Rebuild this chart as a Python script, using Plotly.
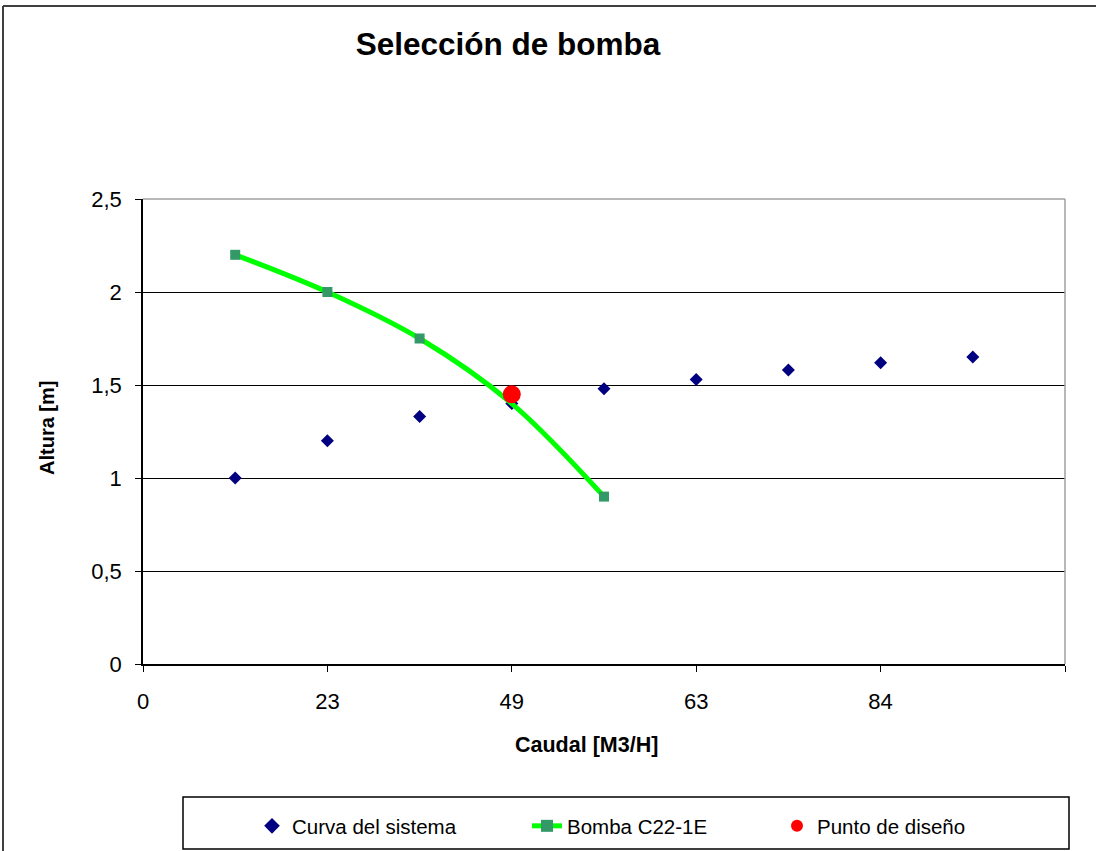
import plotly.graph_objects as go

# ---- data ----
x_tick_pos = [0, 2, 4, 6, 8, 10]
x_tick_labels = ["0", "23", "49", "63", "84", ""]
y_tick_vals = [0, 0.5, 1, 1.5, 2, 2.5]
y_tick_labels = ["0", "0,5", "1", "1,5", "2", "2,5"]

sistema_x = [1, 2, 3, 4, 5, 6, 7, 8, 9]
sistema_y = [1.00, 1.20, 1.33, 1.40, 1.48, 1.53, 1.58, 1.62, 1.65]

bomba_x = [1, 2, 3, 4, 5]
bomba_y = [2.20, 2.00, 1.75, 1.40, 0.90]
bomba_marker_x = [1, 2, 3, 5]
bomba_marker_y = [2.20, 2.00, 1.75, 0.90]

diseno_x = [4]
diseno_y = [1.45]

FONT = "Liberation Sans, Arial, sans-serif"

# plot-area pixel geometry
L, R, T, B = 143, 1065, 199, 664
W, H = R - L, B - T


def px(xp):
    return (xp - L) / W


def py(yp):
    return (B - yp) / H


fig = go.Figure()

fig.add_trace(go.Scatter(
    x=sistema_x, y=sistema_y, mode="markers", name="Curva del sistema",
    marker=dict(symbol="diamond", color="#000080", size=10),
    legend="legend",
))
fig.add_trace(go.Scatter(
    x=bomba_x, y=bomba_y, mode="lines", name="Bomba C22-1E",
    line=dict(color="#00FF00", width=5, shape="spline", smoothing=1),
    showlegend=False,
))
fig.add_trace(go.Scatter(
    x=bomba_marker_x, y=bomba_marker_y, mode="markers", name="Bomba C22-1E",
    marker=dict(symbol="square", color="#339966", size=10),
    showlegend=False,
))
# legend-only entry for the pump (line + square marker)
fig.add_trace(go.Scatter(
    x=[None], y=[None], mode="lines+markers", name="Bomba C22-1E",
    line=dict(color="#00FF00", width=5),
    marker=dict(symbol="square", color="#339966", size=8),
    legend="legend2",
))
fig.add_trace(go.Scatter(
    x=diseno_x, y=diseno_y, mode="markers", name="Punto de diseño",
    marker=dict(symbol="circle", color="#FF0000", size=18),
    legend="legend3",
))

legend_common = dict(
    orientation="h", yanchor="middle", y=py(826), xanchor="left",
    font=dict(family=FONT, size=20.5, color="#000000"),
    bgcolor="rgba(0,0,0,0)", borderwidth=0, itemsizing="constant",
)

shapes = [
    # legend box
    dict(type="rect", xref="paper", yref="paper",
         x0=px(183), x1=px(1069), y0=py(849), y1=py(797),
         line=dict(color="#000000", width=1.5), fillcolor="rgba(0,0,0,0)"),
    # plot-area top/right gray border
    dict(type="line", xref="paper", yref="paper", x0=0, x1=1, y0=1, y1=1,
         line=dict(color="#A0A0A0", width=1.5), layer="above"),
    dict(type="line", xref="paper", yref="paper", x0=1, x1=1, y0=0, y1=1,
         line=dict(color="#A0A0A0", width=1.5), layer="above"),
    # outer chart border (left / top)
    dict(type="line", xref="paper", yref="paper", x0=px(3), x1=px(3),
         y0=py(6), y1=py(900), line=dict(color="#404040", width=2)),
    dict(type="line", xref="paper", yref="paper", x0=px(3), x1=px(1200),
         y0=py(6), y1=py(6), line=dict(color="#404040", width=2)),
]

annotations = [
    dict(text="<b>Caudal [M3/H]</b>", xref="paper", yref="paper",
         x=px(586), y=py(745), xanchor="center", yanchor="middle",
         showarrow=False, font=dict(family=FONT, size=21.5, color="#000000")),
    dict(text="<b>Altura [m]</b>", xref="paper", yref="paper",
         x=px(47), y=py(428), xanchor="center", yanchor="middle",
         textangle=-90, showarrow=False,
         font=dict(family=FONT, size=20, color="#000000")),
]

fig.update_layout(
    width=1096, height=851,
    margin=dict(l=L, r=1096 - R, t=T, b=851 - B, autoexpand=False),
    paper_bgcolor="#FFFFFF", plot_bgcolor="#FFFFFF",
    font=dict(family=FONT, color="#000000"),
    title=dict(text="<b>Selección de bomba</b>", xref="paper", x=px(508),
               xanchor="center", yref="container", y=1 - 44 / 851,
               yanchor="middle",
               font=dict(family=FONT, size=31.5, color="#000000")),
    xaxis=dict(range=[0, 10], tickmode="array", tickvals=x_tick_pos,
               ticktext=x_tick_labels, showgrid=False, zeroline=False,
               showline=True, linecolor="#000000", linewidth=1.5,
               ticks="outside", ticklen=6, tickcolor="#000000",
               ticklabelstandoff=11,
               tickfont=dict(family=FONT, size=22, color="#000000")),
    yaxis=dict(range=[0, 2.5], tickmode="array", tickvals=y_tick_vals,
               ticktext=y_tick_labels, showgrid=True, gridcolor="#000000",
               gridwidth=1, zeroline=False, showline=True,
               linecolor="#000000", linewidth=1.5, ticks="outside",
               ticklen=6, tickcolor="#000000", ticklabelstandoff=9,
               tickfont=dict(family=FONT, size=22, color="#000000")),
    legend=dict(x=px(252), **legend_common),
    legend2=dict(x=px(527), **legend_common),
    legend3=dict(x=px(777), **legend_common),
    shapes=shapes,
    annotations=annotations,
)

fig.write_html("out.html")
